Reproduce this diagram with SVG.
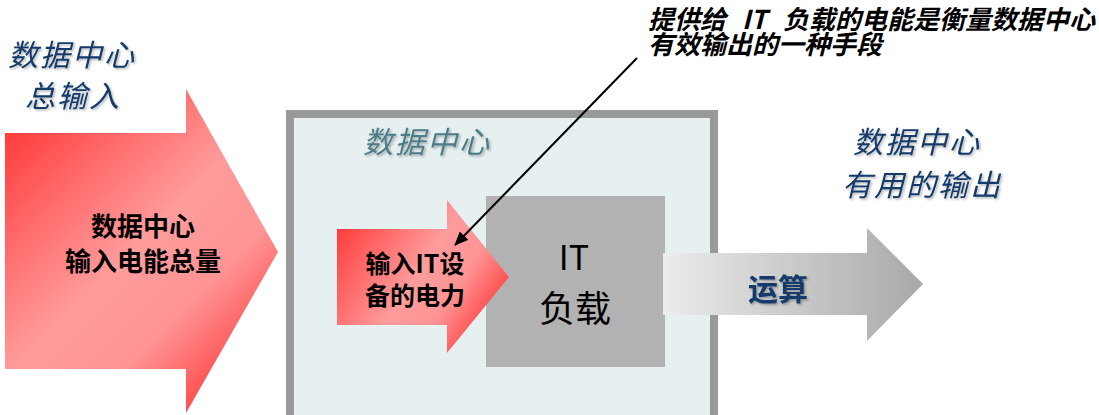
<svg xmlns="http://www.w3.org/2000/svg" width="1099" height="415" viewBox="0 0 1099 415">
  <defs>
    <linearGradient id="redBig" gradientUnits="userSpaceOnUse" x1="5" y1="133" x2="250" y2="380">
      <stop offset="0" stop-color="#ff3c3c"/>
      <stop offset="0.5" stop-color="#ff9c9c"/>
      <stop offset="0.72" stop-color="#ff9494"/>
      <stop offset="1" stop-color="#ff3c3c"/>
    </linearGradient>
    <linearGradient id="redSmall" gradientUnits="userSpaceOnUse" x1="337" y1="229" x2="490" y2="330">
      <stop offset="0" stop-color="#ff3c3c"/>
      <stop offset="0.5" stop-color="#ff9c9c"/>
      <stop offset="0.72" stop-color="#ff9494"/>
      <stop offset="1" stop-color="#ff3c3c"/>
    </linearGradient>
    <linearGradient id="grayArr" gradientUnits="userSpaceOnUse" x1="663" y1="0" x2="923" y2="0">
      <stop offset="0" stop-color="#ececec"/>
      <stop offset="1" stop-color="#a8a8a8"/>
    </linearGradient>
    <filter id="shadow" x="-10%" y="-10%" width="130%" height="140%">
      <feDropShadow dx="1.5" dy="1.5" stdDeviation="0.8" flood-color="#000" flood-opacity="0.3"/>
    </filter>
    <marker id="ah" markerWidth="14" markerHeight="12" refX="13" refY="6" orient="auto" markerUnits="userSpaceOnUse">
      <path d="M0,0 L14,6 L0,12 Z" fill="#000"/>
    </marker>
    <style>
      .cjk { font-family: "Noto Sans CJK SC", "Liberation Sans", sans-serif; }
      .blue { fill: #123a6a; font-style: italic; font-size: 30px; letter-spacing: 2px; filter: url(#shadow); }
      .bold { font-weight: bold; fill: #000; }
    </style>
  </defs>

  <g id="total-input-label" class="cjk">
    <text class="blue" x="8" y="66">数据中心</text>
    <text class="blue" x="25" y="107">总输入</text>
  </g>

  <g id="total-input-arrow">
    <path d="M5,133 L186,133 L186,89 L278,252 L186,413 L186,369 L5,369 Z" fill="url(#redBig)"/>
    <text class="cjk bold" x="143" y="236" text-anchor="middle" font-size="26">数据中心</text>
    <text class="cjk bold" x="143" y="271" text-anchor="middle" font-size="26">输入电能总量</text>
  </g>

  <g id="datacenter">
    <rect x="290" y="114" width="424" height="310" fill="#e7f0f0" stroke="#999999" stroke-width="8"/>
    <text class="cjk" x="363" y="153" font-size="30" letter-spacing="2" font-style="italic" fill="#4d7c8a" filter="url(#shadow)">数据中心</text>
  </g>

  <g id="it-load">
    <rect x="486" y="196" width="179" height="171" fill="#b2b2b2"/>
    <text class="cjk" x="574" y="270" text-anchor="middle" font-size="34" fill="#000">IT</text>
    <text class="cjk" x="575" y="322" text-anchor="middle" font-size="36" fill="#000">负载</text>
  </g>

  <g id="it-power-arrow">
    <path d="M337,229 L447,229 L447,200 L509,277 L447,353 L447,325 L337,325 Z" fill="url(#redSmall)"/>
    <text class="cjk bold" x="415" y="273" text-anchor="middle" font-size="25">输入IT设</text>
    <text class="cjk bold" x="415" y="305" text-anchor="middle" font-size="25">备的电力</text>
  </g>

  <g id="compute-arrow">
    <path d="M663,253 L867,253 L867,228 L923,284 L867,341 L867,315 L663,315 Z" fill="url(#grayArr)"/>
    <text class="cjk" x="748" y="300" font-size="30" font-weight="bold" fill="#123a6a" filter="url(#shadow)">运算</text>
  </g>

  <g id="useful-output-label" class="cjk">
    <text class="blue" x="853" y="153">数据中心</text>
    <text class="blue" x="842" y="196">有用的输出</text>
  </g>

  <g id="annotation" class="cjk" font-size="26" font-weight="bold" font-style="italic" fill="#000">
    <text x="648" y="29">提供给<tspan x="742">IT</tspan><tspan x="783">负载的电能是衡量数据中心</tspan></text>
    <text x="648" y="54">有效输出的一种手段</text>
  </g>

  <g id="connectors">
    <line x1="637" y1="58" x2="455" y2="245" stroke="#000" stroke-width="2" marker-end="url(#ah)"/>
  </g>
</svg>
